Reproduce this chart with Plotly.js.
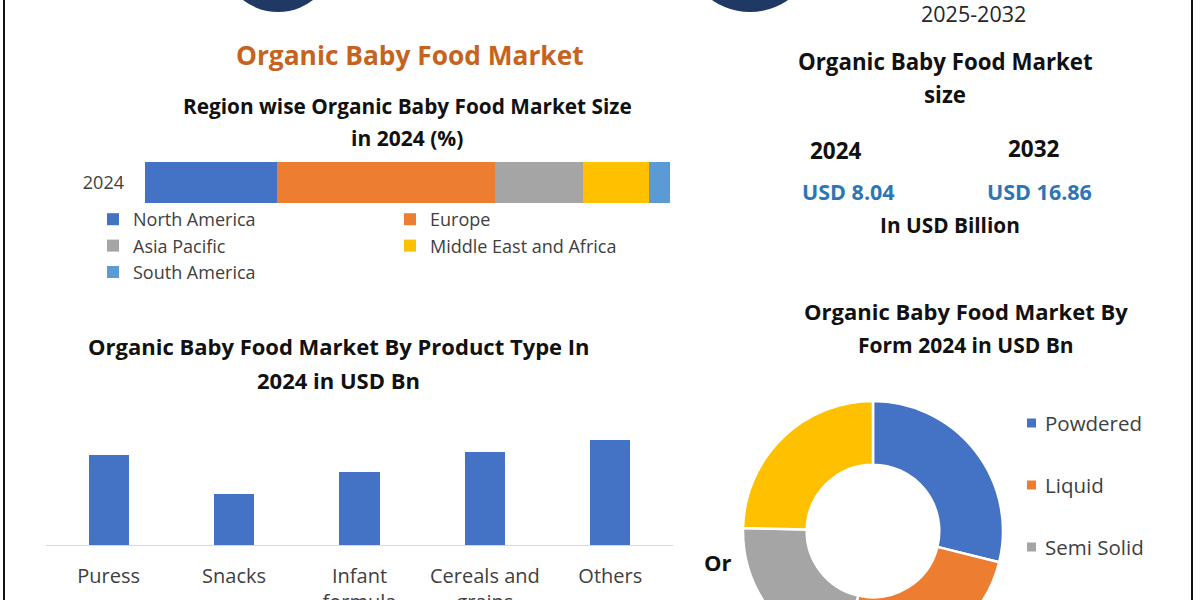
<!DOCTYPE html>
<html>
<head>
<meta charset="utf-8">
<script src="https://cdn.plot.ly/plotly-3.0.1.min.js"></script>
<style>
html,body{margin:0;padding:0;overflow:hidden;background:#fff;width:1200px;height:600px;}
#chart{width:1200px;height:700px;}
</style>
</head>
<body>
<div id="chart"></div>
<script>
// ---------- data ----------
const regionYear = '2024';
const regions = ['North America', 'Europe', 'Asia Pacific', 'Middle East and Africa', 'South America'];
const regionShares = [25.1, 41.6, 16.7, 12.6, 4.0];
const regionColors = ['#4472C4', '#ED7D31', '#A5A5A5', '#FFC000', '#5B9BD5'];
const regionLegend = ['legend', 'legend2', 'legend', 'legend2', 'legend'];

const productTypes = ['Puress', 'Snacks', 'Infant<br>formula', 'Cereals and<br>grains', 'Others'];
const productValues = [1.76, 1.00, 1.42, 1.81, 2.05];

const formLabels = ['Powdered', 'Liquid', 'Semi Solid', 'Solid'];
const formValues = [2.32, 1.99, 1.75, 1.98];
const formColors = ['#4472C4', '#ED7D31', '#A5A5A5', '#FFC000'];

const sizeYears = ['2024', '2032'];
const sizeValues = [8.04, 16.86];
const forecastPeriod = '2025-2032';

// ---------- layout helpers ----------
const W = 1200, H = 700;
const fx = x => x / W;
const fy = y => 1 - y / H;
const FONT = 'Open Sans, Noto Sans, sans-serif';

const traces = [];
regions.forEach((r, i) => {
  traces.push({
    type: 'bar', orientation: 'h', name: r,
    x: [regionShares[i]], y: [regionYear], width: 1,
    xaxis: 'x2', yaxis: 'y2',
    marker: {color: regionColors[i]},
    legend: regionLegend[i], hoverinfo: 'skip'
  });
});
traces.push({
  type: 'bar', x: productTypes, y: productValues,
  xaxis: 'x', yaxis: 'y', marker: {color: '#4472C4'},
  showlegend: false, hoverinfo: 'skip'
});
traces.push({
  type: 'pie', labels: formLabels, values: formValues,
  marker: {colors: formColors, line: {color: '#fff', width: 2.5}},
  hole: 0.51, sort: false, direction: 'clockwise', rotation: 0,
  textinfo: 'none', hoverinfo: 'skip', showlegend: false,
  domain: {x: [fx(743), fx(1003)], y: [fy(661), fy(401)]}
});

const annotations = [];
const shapes = [];
function txt(text, x, y, size, color, anchor) {
  annotations.push({text: text, x: fx(x), y: fy(y), xref: 'paper', yref: 'paper',
    xanchor: anchor || 'center', yanchor: 'middle', showarrow: false,
    font: {family: FONT, size: size, color: color || '#111'}});
}
txt(forecastPeriod, 973, 13, 21.5, '#262626');
txt('<b>Organic Baby Food Market</b>', 410, 55, 26.3, '#C5631F');
txt('<b>Region wise Organic Baby Food Market Size</b>', 407, 106, 20.8);
txt('<b>in 2024 (%)</b>', 407, 138, 21);
txt('<b>Organic Baby Food Market By Product Type In</b>', 339, 346, 22);
txt('<b>2024 in USD Bn</b>', 339, 380, 22);
txt('<b>Organic Baby Food Market</b>', 945, 61, 22.3);
txt('<b>size</b>', 945, 95, 22.3);
txt('<b>' + sizeYears[0] + '</b>', 836, 150, 22.5);
txt('<b>' + sizeYears[1] + '</b>', 1034, 148, 22.5);
txt('<b>USD ' + sizeValues[0].toFixed(2) + '</b>', 848, 192, 21.5, '#2E75B6');
txt('<b>USD ' + sizeValues[1].toFixed(2) + '</b>', 1039, 192, 21.5, '#2E75B6');
txt('<b>In USD Billion</b>', 950, 225, 20.8);
txt('<b>Organic Baby Food Market By</b>', 966, 311, 22);
txt('<b>Form 2024 in USD Bn</b>', 966, 345, 21);
txt('<b>Or</b>', 718, 562, 22);

// manual legend for the donut
formLabels.forEach((l, i) => {
  const yc = 423 + 62 * i;
  shapes.push({type: 'rect', xref: 'paper', yref: 'paper',
    x0: fx(1027), x1: fx(1036), y0: fy(yc + 4.5), y1: fy(yc - 4.5),
    fillcolor: formColors[i], line: {width: 0}});
  txt(l, 1043, yc, 20.5, '#404040', 'left');
});

// frame lines and logo circles
shapes.push({type: 'line', xref: 'paper', yref: 'paper', x0: fx(4), x1: fx(4), y0: 0, y1: 1, line: {color: '#111', width: 2}});
shapes.push({type: 'line', xref: 'paper', yref: 'paper', x0: fx(1192), x1: fx(1192), y0: 0, y1: 1, line: {color: '#111', width: 2}});
shapes.push({type: 'circle', xref: 'paper', yref: 'paper', x0: fx(278 - 57), x1: fx(278 + 57), y0: fy(12), y1: fy(-102), fillcolor: '#1F3864', line: {width: 0}});
shapes.push({type: 'circle', xref: 'paper', yref: 'paper', x0: fx(750 - 66), x1: fx(750 + 66), y0: fy(12), y1: fy(-120), fillcolor: '#1F3864', line: {width: 0}});

const layout = {
  width: W, height: H,
  margin: {l: 0, r: 0, t: 0, b: 0},
  paper_bgcolor: '#fff', plot_bgcolor: 'rgba(0,0,0,0)',
  barmode: 'stack', bargap: 0.68,
  font: {family: FONT, color: '#404040'},
  xaxis: {domain: [fx(46), fx(673)], showgrid: false, zeroline: false,
    showline: true, linecolor: '#D9D9D9', linewidth: 1, ticks: '',
    tickfont: {size: 20, color: '#404040'}, ticklabelstandoff: 13, fixedrange: true},
  yaxis: {domain: [fy(545), fy(417)], range: [0, 2.5], visible: false, fixedrange: true},
  xaxis2: {domain: [fx(145), fx(670)], range: [0, 100], visible: false, anchor: 'y2', fixedrange: true},
  yaxis2: {type: 'category', domain: [fy(203), fy(162)], range: [-0.5, 0.5], anchor: 'x2', showgrid: false,
    zeroline: false, showline: false, ticks: '', ticklabelstandoff: 20,
    tickfont: {size: 18, color: '#404040'}, fixedrange: true},
  legend: {x: fx(93), y: fy(201), xanchor: 'left', yanchor: 'top', orientation: 'v',
    bgcolor: 'rgba(0,0,0,0)', font: {size: 18, color: '#404040'}, traceorder: 'normal'},
  legend2: {x: fx(390), y: fy(201), xanchor: 'left', yanchor: 'top', orientation: 'v',
    bgcolor: 'rgba(0,0,0,0)', font: {size: 18, color: '#404040'}, traceorder: 'normal'},
  annotations: annotations,
  shapes: shapes,
  showlegend: true
};

Plotly.newPlot('chart', traces, layout, {displayModeBar: false, staticPlot: true});
</script>
</body>
</html>
